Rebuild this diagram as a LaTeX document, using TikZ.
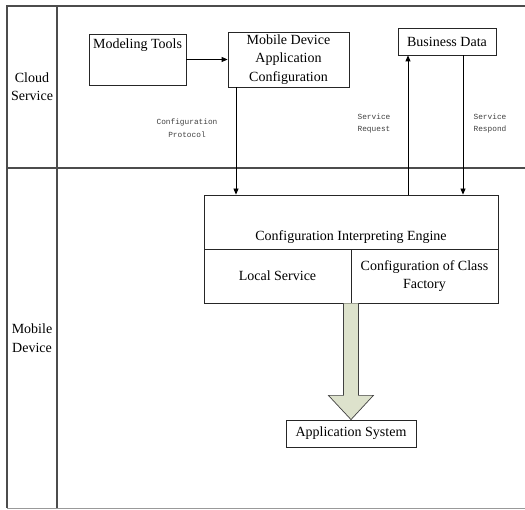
\documentclass[tikz,border=0pt]{standalone}
\usepackage{fontspec}
\setmainfont{Liberation Serif}
\setmonofont{Liberation Mono}
\usetikzlibrary{arrows.meta,calc}
\begin{document}
\begin{tikzpicture}[x=1pt,y=-1pt,
  lane/.style={draw=black!70,line width=1.1pt},
  box/.style={draw=black!85,line width=0.8pt,inner sep=0pt,font=\fontsize{14}{18.5}\selectfont,align=center},
  txt/.style={inner sep=0pt,font=\fontsize{14}{18.5}\selectfont,align=center},
  small/.style={inner sep=0pt,font=\ttfamily\fontsize{7.8}{12.5}\selectfont,align=center,text=black!75},
  arr/.style={draw=black,line width=0.8pt,-{Triangle[length=6pt,width=5pt]}},
  ln/.style={draw=black!85,line width=0.8pt}]
\useasboundingbox (0,0) rectangle (525,510);
% lanes
\draw[lane] (525,6) -- (7,6) -- (7,508);
\draw[lane] (57,6) -- (57,508);
\draw[lane] (7,168) -- (525,168);
\draw[draw=black!40,line width=1pt] (7,508) -- (525,508);
\node[txt] (cloud) at (32,86.5) {Cloud\\Service};
\node[txt] (mob) at (32,338) {Mobile\\Device};
% cloud boxes
\node[box,minimum width=97,minimum height=51] (mt) at (137.5,59.5) {};
\node[txt,anchor=north] (mtl) at ($(mt.north)+(0,5)$) {Modeling Tools};
\node[box,minimum width=121,minimum height=55] (mdac) at (288.5,59.5) {Mobile Device\\Application\\Configuration};
\node[box,minimum width=98,minimum height=27] (bd) at (447,41.5) {Business Data};
% engine
\node[box,minimum width=294,minimum height=54] (eng) at (351,222) {};
\node[txt] (engl) at (351,237) {Configuration Interpreting Engine};
\node[box,minimum width=147,minimum height=54] (ls) at (277.5,276) {Local Service};
\node[box,minimum width=147,minimum height=54] (cf) at (424.5,276) {Configuration of Class\\Factory};
\node[box,minimum width=130,minimum height=27] (app) at (351,433.5) {Application System};
% labels
\node[small] (cpl) at (187,128) {Configuration\\Protocol};
\node[small] (srq) at (374,123.5) {Service\\Request};
\node[small] (srp) at (490,123.5) {Service\\Respond};
% connectors
\coordinate (xa) at (236,0);
\coordinate (xb) at (408,0);
\coordinate (xc) at (463,0);
\draw[arr] (mt.east) -- (mdac.west);
\draw[arr] (mdac.south -| xa) -- (eng.north -| xa);
\draw[arr] (eng.north -| xb) -- (bd.south -| xb);
\draw[arr] (bd.south -| xc) -- (eng.north -| xc);
% big arrow
\draw[draw=black!75,line width=0.7pt,fill={rgb,255:red,221;green,226;blue,204}]
  ($(ls.south east)+(-8,0)$) -- ++(0,92) -- ++(-15,0) -- (app.north) -- ($(ls.south east)+(22,92)$) -- ++(-15,0) -- ($(ls.south east)+(7,0)$);
\end{tikzpicture}
\end{document}
